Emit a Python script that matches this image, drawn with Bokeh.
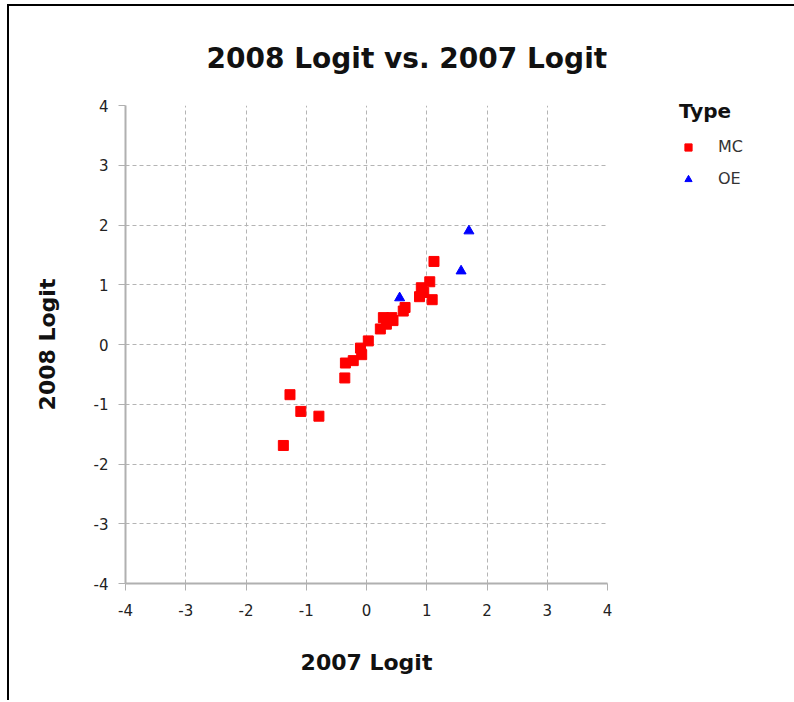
from bokeh.plotting import figure
from bokeh.models import Range1d, Legend, LegendItem, FixedTicker, PrintfTickFormatter
from bokeh.embed import file_html
from bokeh.resources import INLINE

# Data
mc_x = [1.12, 1.05, 0.91, 0.95, 0.88, 1.09, 0.64, 0.61, 0.42, 0.28, 0.44, 0.33, 0.23,
        0.03, -0.10, -0.08, -0.22, -0.35, -0.36, -1.27, -1.09, -0.79, -1.38]
mc_y = [1.39, 1.05, 0.95, 0.87, 0.80, 0.75, 0.62, 0.56, 0.45, 0.45, 0.40, 0.34, 0.26,
        0.06, -0.06, -0.17, -0.27, -0.31, -0.56, -0.84, -1.12, -1.20, -1.69]
oe_x = [1.70, 1.57, 0.55]
oe_y = [1.90, 1.23, 0.78]
ticks = [-4, -3, -2, -1, 0, 1, 2, 3, 4]

TXT = "#222222"
GRID = "#b4b4b4"

p = figure(output_backend="svg", toolbar_location=None,
           x_range=Range1d(-4, 4), y_range=Range1d(-4, 4),
           frame_width=482, frame_height=478,
           min_border_left=116, min_border_right=185, min_border_top=99,
           min_border_bottom=117, title="2008 Logit vs. 2007 Logit")
p.outline_line_color = None
p.background_fill_color = "white"
p.border_fill_color = "white"

p.title.align = "left"
p.title.offset = 81
p.title.text_font = "DejaVu Sans"
p.title.text_font_size = "28px"
p.title.text_font_style = "bold"
p.title.text_color = "#111111"
p.title.standoff = 62

for ax in (p.xaxis[0], p.yaxis[0]):
    ax.ticker = FixedTicker(ticks=ticks)
    ax.formatter = PrintfTickFormatter(format="%d")
    ax.axis_line_color = "#b0b0b0"
    ax.axis_line_width = 2
    ax.major_tick_line_color = "#b0b0b0"
    ax.major_tick_out = 7
    ax.major_tick_in = 0
    ax.minor_tick_line_color = None
    ax.major_label_text_font = "DejaVu Sans"
    ax.major_label_text_font_size = "15px"
    ax.major_label_text_color = TXT
    ax.axis_label_text_font = "DejaVu Sans"
    ax.axis_label_text_font_size = "22px"
    ax.axis_label_text_font_style = "bold"
    ax.axis_label_text_color = "#111111"

p.xaxis.axis_label = "2007 Logit"
p.yaxis.axis_label = "2008 Logit"
p.xaxis.major_label_standoff = 13
p.yaxis.major_label_standoff = 10
p.xaxis.axis_label_standoff = 31
p.yaxis.axis_label_standoff = 31
p.yaxis.major_label_orientation = "horizontal"

for g in (p.xgrid[0], p.ygrid[0]):
    g.ticker = FixedTicker(ticks=ticks)
    g.grid_line_color = GRID
    g.grid_line_dash = "4 3"
    g.grid_line_width = 1

r_mc = p.scatter(mc_x, mc_y, marker="square", size=10, fill_color="#ff0000",
                 line_color="#ff0000")
r_oe = p.scatter(oe_x, oe_y, marker="triangle", size=10, fill_color="#0000ff",
                 line_color="#0000ff")

legend = Legend(items=[LegendItem(label="MC", renderers=[r_mc]),
                       LegendItem(label="OE", renderers=[r_oe])],
                title="Type", location=(72, 395))
legend.title_text_font = "DejaVu Sans"
legend.title_text_font_size = "20px"
legend.title_text_font_style = "bold"
legend.title_text_color = "#111111"
legend.label_text_font = "DejaVu Sans"
legend.label_text_font_size = "16px"
legend.label_text_color = "#333333"
legend.border_line_color = None
legend.background_fill_alpha = 0
legend.glyph_width = 18
legend.glyph_height = 18
legend.label_standoff = 21
legend.spacing = 13
legend.margin = 0
legend.padding = 0
legend.title_standoff = 14
p.add_layout(legend, "right")

p.styles = {"border-left": "2px solid #000", "border-top": "2px solid #000",
            "margin-left": "7px", "margin-top": "4px"}

open("out.html", "w").write(file_html(p, INLINE))
